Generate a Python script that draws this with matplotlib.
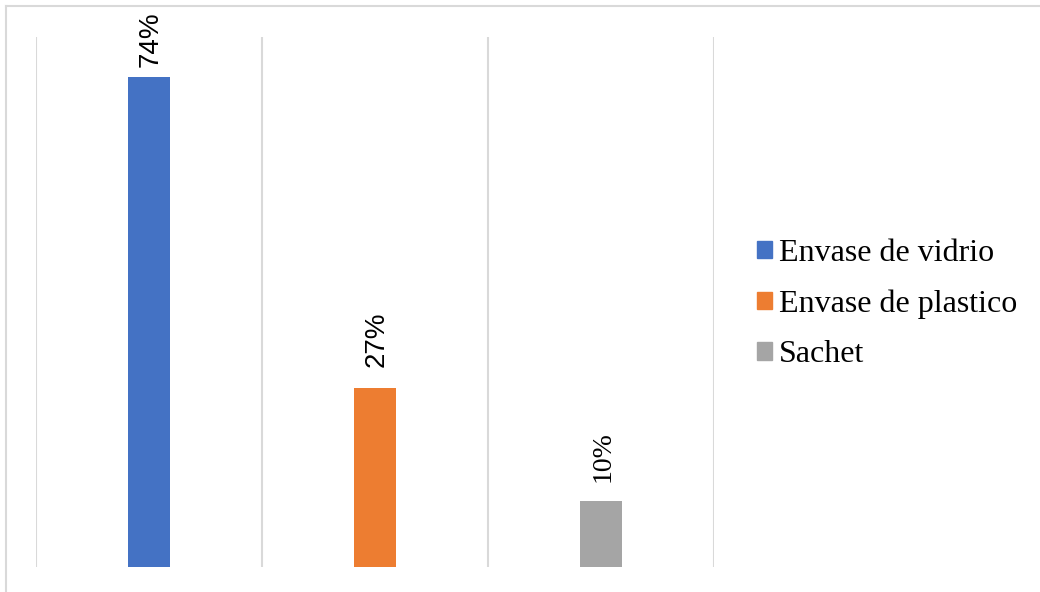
import matplotlib.pyplot as plt
from matplotlib.patches import Patch
from matplotlib.lines import Line2D

categories = ['Envase de vidrio', 'Envase de plastico', 'Sachet']
shares = [74, 27, 10]
labels = ['74%', '27%', '10%']
colors = ['#4472C4', '#ED7D31', '#A5A5A5']
label_fonts = ['Liberation Sans', 'Liberation Sans', 'Liberation Serif']
label_gaps = [7, 15.5, 13.5]  # points above the bar top

fig = plt.figure(figsize=(10.4, 5.92), dpi=100)
ax = fig.add_axes([36/1040, 25/592, 678/1040, 530/592])

xs = range(len(categories))
ax.bar(xs, shares, width=0.186, color=colors, zorder=3)
for x, v, lab, fam, gap in zip(xs, shares, labels, label_fonts, label_gaps):
  ax.annotate(lab, (x, v), xytext=(1.5, gap), textcoords='offset points',
              rotation=90, ha='center', va='bottom', fontsize=20, family=fam)

ax.set_xlim(-0.5, 2.5)
ax.set_ylim(0, 80)
for gx in [-0.5, 0.5, 1.5, 2.5]:
  ax.axvline(gx, color='#D9D9D9', lw=1.5, zorder=1)
for s in ax.spines.values():
  s.set_visible(False)
ax.set_xticks([])
ax.set_yticks([])

# outer chart frame, only top and left edges fall inside the canvas
fig.add_artist(Line2D([6/1040, 6/1040], [0, 1-6/592], transform=fig.transFigure, color='#D9D9D9', lw=1.5))
fig.add_artist(Line2D([6/1040, 1], [1-6/592, 1-6/592], transform=fig.transFigure, color='#D9D9D9', lw=1.5))

handles = [Patch(color=c) for c in colors]
fig.legend(handles, categories, loc='center left', bbox_to_anchor=(757/1040, 1-304/592),
           frameon=False, prop={'family': 'Liberation Serif', 'size': 23},
           handlelength=0.47, handleheight=0.47, handletextpad=0.22, labelspacing=0.67,
           borderaxespad=0, borderpad=0)

fig.savefig('out.png', dpi=100)
